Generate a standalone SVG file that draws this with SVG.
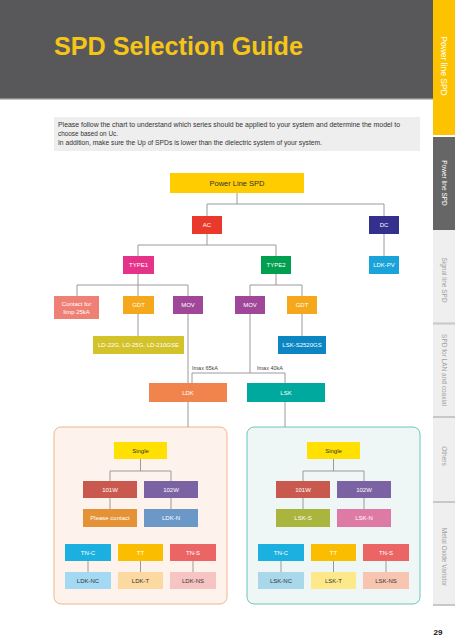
<svg xmlns="http://www.w3.org/2000/svg" width="455" height="644" viewBox="0 0 455 644">
<style>
text{font-family:"Liberation Sans",Arial,sans-serif}
.b{font-size:6px;fill:#fff;text-anchor:middle;dominant-baseline:central}
.d{font-size:6px;fill:#333;text-anchor:middle;dominant-baseline:central}
.c{fill:none;stroke:#9a9a9a;stroke-width:1}
.tab{font-size:6.5px;fill:#a0a0a0;text-anchor:middle;dominant-baseline:central}
.note{font-size:6.4px;fill:#333}
.lbl{font-size:5.5px;fill:#444}
</style>
<rect x="0" y="0" width="455" height="644" fill="#fff"/>
<rect x="0" y="0" width="433" height="98" fill="#58585a"/>
<rect x="0" y="98" width="433" height="1.5" fill="#8a8a8a"/>
<text x="54" y="55" font-size="25" font-weight="bold" fill="#f5c518" textLength="249" lengthAdjust="spacingAndGlyphs">SPD Selection Guide</text>
<g id="sidebar">
<rect x="433" y="0" width="22" height="135" fill="#fdc300"/>
<text x="444" y="66" transform="rotate(90 444 66)" font-size="8.5" fill="#fff" text-anchor="middle" dominant-baseline="central">Power line SPD</text>
<rect x="433" y="137" width="22" height="93" fill="#666"/>
<text x="444" y="183" transform="rotate(90 444 183)" class="tab" style="fill:#fff">Power line SPD</text>
<rect x="433" y="230" width="22" height="375" fill="#efefef"/>
<rect x="433" y="322.5" width="22" height="2" fill="#c8c8c8"/>
<rect x="433" y="416" width="22" height="2" fill="#c8c8c8"/>
<rect x="433" y="501" width="22" height="2" fill="#c8c8c8"/>
<rect x="433" y="604" width="22" height="2" fill="#c8c8c8"/>
<text x="444" y="280" transform="rotate(90 444 280)" class="tab">Signal line SPD</text>
<text x="444" y="370" transform="rotate(90 444 370)" class="tab">SPD for LAN and coaxial</text>
<text x="444" y="456" transform="rotate(90 444 456)" class="tab">Others</text>
<text x="444" y="557" transform="rotate(90 444 557)" class="tab">Metal Oxide Varistor</text>
<text x="438" y="635" font-size="8" font-weight="bold" fill="#111" text-anchor="middle">29</text>
</g>
<g id="note">
<rect x="54" y="117" width="366" height="34" fill="#eeeeee"/>
<text class="note" x="58" y="127" textLength="342" lengthAdjust="spacingAndGlyphs">Please follow the chart to understand which series should be applied to your system and determine the model to</text>
<text class="note" x="58" y="135.5">choose based on Uc.</text>
<text class="note" x="58" y="145" textLength="264" lengthAdjust="spacingAndGlyphs">In addition, make sure the Up of SPDs is lower than the dielectric system of your system.</text>
</g>
<g id="containers">
<rect x="54" y="427" width="173" height="177" rx="7" fill="#fdf3ec" stroke="#f2b48e" stroke-width="1"/>
<rect x="247" y="427" width="173" height="177" rx="7" fill="#eef7f5" stroke="#6cc5b8" stroke-width="1"/>
</g>
<g id="connectors">
<path class="c" d="M237 193V204M207 204H384M207 204V216M384 204V216"/>
<path class="c" d="M207 234V245M138 245H276M138 245V256M276 245V256M384 234V256"/>
<path class="c" d="M138 274V285M77 285H188M77 285V296M138 285V296M188 285V296"/>
<path class="c" d="M276 274V285M250 285H302M250 285V296M302 285V296"/>
<path class="c" d="M138 314V336M302 314V336"/>
<path class="c" d="M188 314V383M250 314V373M192 373H285M192 373V383M285 373V383"/>
<path class="c" d="M188 402V427M285 402V427"/>
<path class="c" d="M140.5 459V471M110 471H171M110 471V481M171 471V481M110 498V509M171 498V509M88 561V572M140.5 561V572M193 561V572"/>
<path class="c" d="M333.5 459V471M303 471H364M303 471V481M364 471V481M303 498V509M364 498V509M281 561V572M333.5 561V572M386 561V572"/>
</g>
<g id="n-power"><rect x="170" y="173" width="134" height="20" fill="#ffcc00"/><text class="d" x="237" y="183" style="font-size:7.5px">Power Line SPD</text></g>
<g id="n-ac"><rect x="192" y="216" width="30" height="18" fill="#e8392b"/><text class="b" x="207" y="225">AC</text></g>
<g id="n-dc"><rect x="369" y="216" width="30" height="18" fill="#33308e"/><text class="b" x="384" y="225">DC</text></g>
<g id="n-type1"><rect x="123" y="256" width="31" height="18" fill="#e6338a"/><text class="b" x="138.5" y="265">TYPE1</text></g>
<g id="n-type2"><rect x="261" y="256" width="30" height="18" fill="#00a050"/><text class="b" x="276" y="265">TYPE2</text></g>
<g id="n-ldkpv"><rect x="369" y="256" width="30" height="18" fill="#1aa3d9"/><text class="b" x="384" y="265">LDK-PV</text></g>
<g id="n-contact"><rect x="54" y="296" width="45" height="23" fill="#ef8075"/><text class="b" x="76.5" y="303.5">Contact for</text><text class="b" x="76.5" y="311.5">Iimp 25kA</text></g>
<g id="n-gdt1"><rect x="123" y="296" width="31" height="18" fill="#f5a81c"/><text class="b" x="138.5" y="305">GDT</text></g>
<g id="n-mov1"><rect x="173" y="296" width="30" height="18" fill="#a0479a"/><text class="b" x="188" y="305">MOV</text></g>
<g id="n-mov2"><rect x="235" y="296" width="30" height="18" fill="#a0479a"/><text class="b" x="250" y="305">MOV</text></g>
<g id="n-gdt2"><rect x="287" y="296" width="30" height="18" fill="#f5a81c"/><text class="b" x="302" y="305">GDT</text></g>
<g id="n-ld"><rect x="93" y="336" width="91" height="18" fill="#d4c22a"/><text class="b" x="138.5" y="345">LD-22G, LD-25G, LD-210GSE</text></g>
<g id="n-lsks"><rect x="278" y="336" width="48" height="18" fill="#0b86c3"/><text class="b" x="302" y="345">LSK-S2520GS</text></g>
<text class="lbl" x="192" y="370">Imax 65kA</text>
<text class="lbl" x="257" y="370">Imax 40kA</text>
<g id="n-ldk"><rect x="149" y="383" width="78" height="19" fill="#f0844c"/><text class="b" x="188" y="392.5">LDK</text></g>
<g id="n-lsk"><rect x="247" y="383" width="78" height="19" fill="#00a99d"/><text class="b" x="286" y="392.5">LSK</text></g>
<g id="n-single-l"><rect x="114" y="442" width="53" height="17" fill="#ffe000"/><text class="d" x="140.5" y="450.5">Single</text></g>
<g id="n-101w-l"><rect x="83" y="481" width="54" height="17" fill="#c9594f"/><text class="b" x="110" y="489.5">101W</text></g>
<g id="n-102w-l"><rect x="144" y="481" width="54" height="17" fill="#7b62a3"/><text class="b" x="171" y="489.5">102W</text></g>
<g id="n-please"><rect x="83" y="509" width="54" height="18" fill="#e59135"/><text class="b" x="110" y="518">Please contact</text></g>
<g id="n-ldkn"><rect x="144" y="509" width="54" height="18" fill="#6b98c7"/><text class="b" x="171" y="518">LDK-N</text></g>
<g id="n-tnc-l"><rect x="65" y="544" width="46" height="17" fill="#1bb0e0"/><text class="b" x="88" y="552.5">TN-C</text></g>
<g id="n-tt-l"><rect x="118" y="544" width="45" height="17" fill="#fbbd00"/><text class="b" x="140.5" y="552.5">TT</text></g>
<g id="n-tns-l"><rect x="170" y="544" width="46" height="17" fill="#ec6565"/><text class="b" x="193" y="552.5">TN-S</text></g>
<g id="n-ldknc"><rect x="65" y="572" width="46" height="17" fill="#a4d9f3"/><text class="d" x="88" y="580.5">LDK-NC</text></g>
<g id="n-ldkt"><rect x="118" y="572" width="45" height="17" fill="#fcd9a0"/><text class="d" x="140.5" y="580.5">LDK-T</text></g>
<g id="n-ldkns"><rect x="170" y="572" width="46" height="17" fill="#f7c4c4"/><text class="d" x="193" y="580.5">LDK-NS</text></g>
<g id="n-single-r"><rect x="307" y="442" width="53" height="17" fill="#ffe000"/><text class="d" x="333.5" y="450.5">Single</text></g>
<g id="n-101w-r"><rect x="276" y="481" width="54" height="17" fill="#c9594f"/><text class="b" x="303" y="489.5">101W</text></g>
<g id="n-102w-r"><rect x="337" y="481" width="54" height="17" fill="#7b62a3"/><text class="b" x="364" y="489.5">102W</text></g>
<g id="n-lsk-s"><rect x="276" y="509" width="54" height="18" fill="#a9b53c"/><text class="b" x="303" y="518">LSK-S</text></g>
<g id="n-lsk-n"><rect x="337" y="509" width="54" height="18" fill="#de7aa6"/><text class="b" x="364" y="518">LSK-N</text></g>
<g id="n-tnc-r"><rect x="258" y="544" width="46" height="17" fill="#1bb0e0"/><text class="b" x="281" y="552.5">TN-C</text></g>
<g id="n-tt-r"><rect x="311" y="544" width="45" height="17" fill="#fbbd00"/><text class="b" x="333.5" y="552.5">TT</text></g>
<g id="n-tns-r"><rect x="363" y="544" width="46" height="17" fill="#ec6565"/><text class="b" x="386" y="552.5">TN-S</text></g>
<g id="n-lsknc"><rect x="258" y="572" width="46" height="17" fill="#a8d8ea"/><text class="d" x="281" y="580.5">LSK-NC</text></g>
<g id="n-lskt"><rect x="311" y="572" width="45" height="17" fill="#fde98a"/><text class="d" x="333.5" y="580.5">LSK-T</text></g>
<g id="n-lskns"><rect x="363" y="572" width="46" height="17" fill="#f8c5b0"/><text class="d" x="386" y="580.5">LSK-NS</text></g>
</svg>
